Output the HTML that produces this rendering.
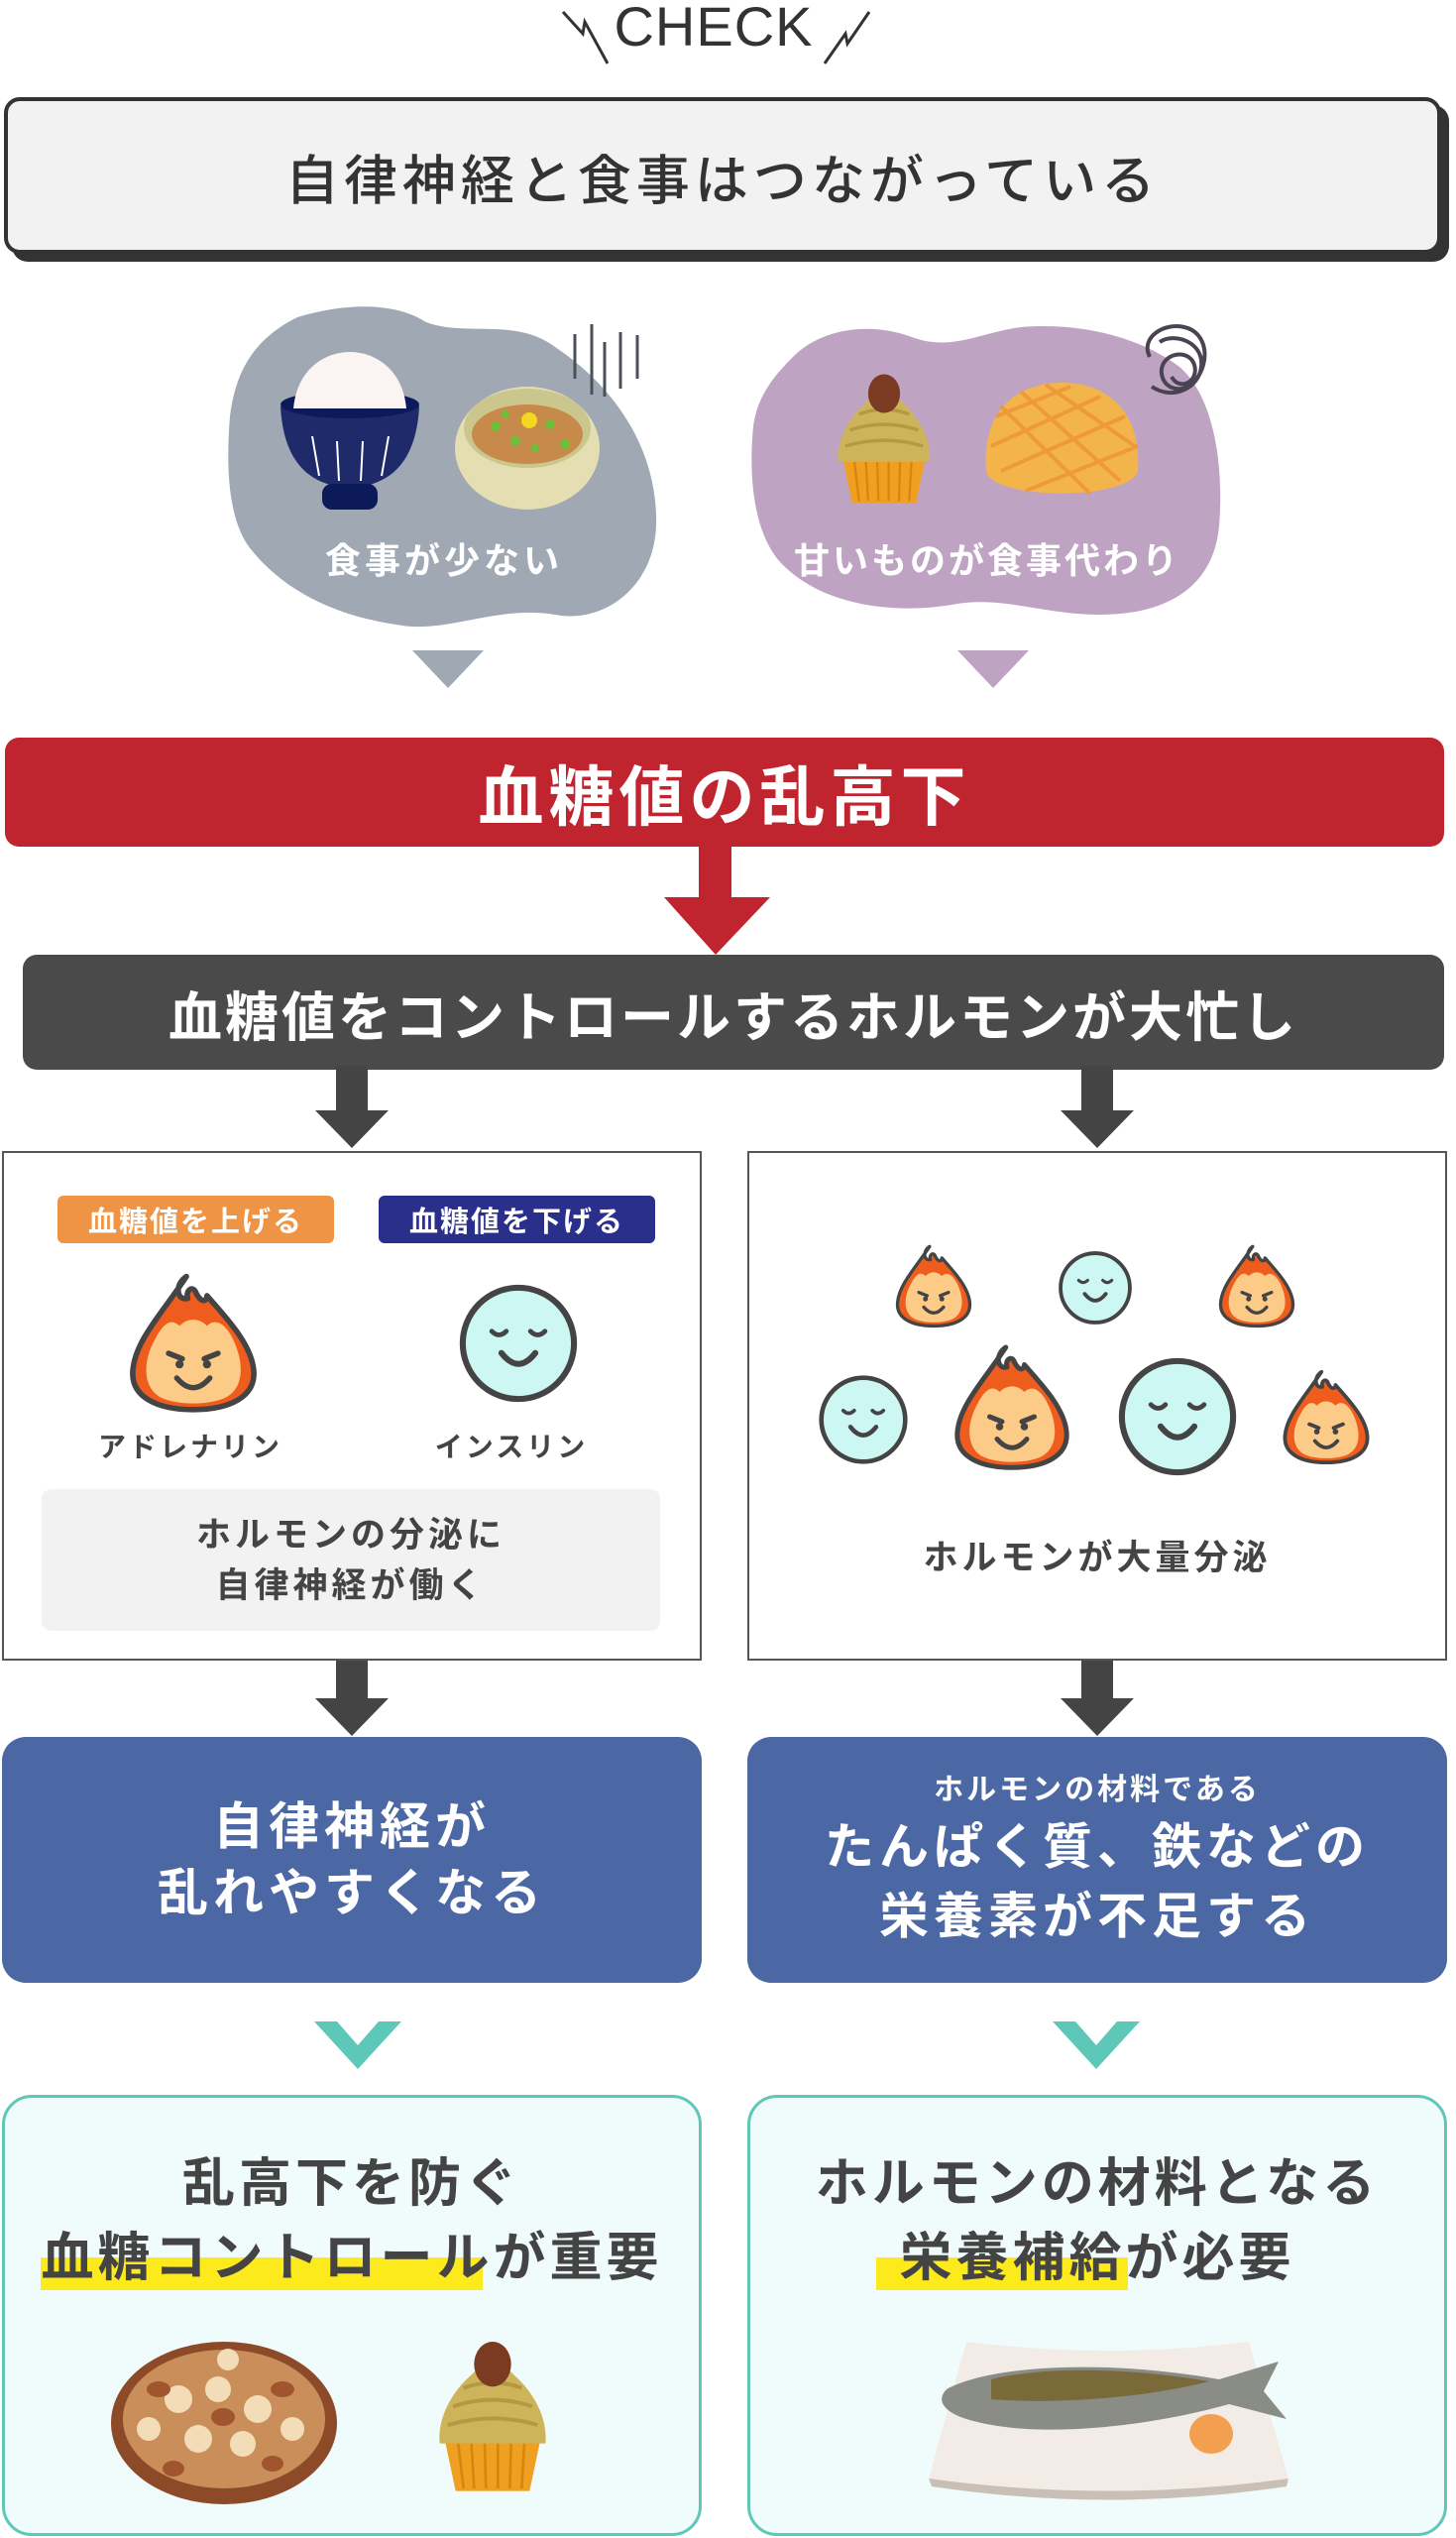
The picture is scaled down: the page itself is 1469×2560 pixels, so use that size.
<!DOCTYPE html>
<html><head><meta charset="utf-8"><style>
*{margin:0;padding:0;box-sizing:border-box}
body{width:1469px;height:2560px;background:#fff;position:relative;overflow:hidden;font-family:"Liberation Sans","Noto Sans CJK JP",sans-serif;color:#444}
.a{position:absolute}
.c{display:flex;align-items:center;justify-content:center;text-align:center}
.b{font-weight:700}
</style></head><body>
<svg width="0" height="0" style="position:absolute">
<defs>
<symbol id="fire" viewBox="0 0 100 104">
<path d="M45 4 C36 10,38 22,46 20 C44 14,50 10,52 16 C56 24,60 22,60 18 C72 32,92 52,94 72 C96 92,76 101,50 101 C24 101,4 92,6 72 C8 50,28 30,45 4 Z" fill="#ef5d1e" stroke="#444" stroke-width="4" stroke-linejoin="round"/>
<path d="M22 50 C28 38,34 34,40 40 C46 34,54 34,60 40 C66 34,74 38,80 52 C86 66,88 84,74 92 C62 98,38 98,26 92 C12 84,14 64,22 50 Z" fill="#fdcb88"/>
<path d="M32 60 L42 64 M68 60 L58 64" stroke="#444" stroke-width="4" stroke-linecap="round"/>
<circle cx="40" cy="68" r="3" fill="#444"/><circle cx="60" cy="68" r="3" fill="#444"/>
<path d="M38 78 Q50 92 62 78" fill="none" stroke="#444" stroke-width="4" stroke-linecap="round"/>
</symbol>
<symbol id="ins" viewBox="0 0 100 100">
<ellipse cx="50" cy="50" rx="46" ry="46" fill="#ccf7f3" stroke="#444" stroke-width="5"/>
<path d="M28 40 Q34 46 40 40 M60 40 Q66 46 72 40" fill="none" stroke="#444" stroke-width="4" stroke-linecap="round"/>
<path d="M36 58 Q50 76 64 58" fill="none" stroke="#444" stroke-width="5" stroke-linecap="round"/>
</symbol>
<symbol id="cup" viewBox="0 0 100 120">
<path d="M14 78 L22 116 L78 116 L86 78 Z" fill="#f0a020"/>
<path d="M24 80 L28 114 M34 80 L36 114 M44 80 L45 114 M54 80 L54 114 M64 80 L63 114 M74 80 L72 114" stroke="#d88510" stroke-width="2"/>
<path d="M10 80 C8 60,20 40,34 28 C40 20,60 20,66 28 C80 40,92 60,90 80 Z" fill="#cdb45a"/>
<path d="M16 66 Q50 56 84 66 M20 52 Q50 42 80 52 M28 38 Q50 30 72 38" fill="none" stroke="#b39a42" stroke-width="3"/>
<ellipse cx="50" cy="20" rx="14" ry="17" fill="#7a3b22"/>
</symbol>
</defs></svg>

<!-- CHECK -->
<div class="a" style="left:600px;top:-6px;width:240px;text-align:center;font-size:56px;color:#333;letter-spacing:1px">CHECK</div>
<svg class="a" style="left:560px;top:0" width="340" height="80"><path d="M8 12 L28 34 L30 22 L53 64" fill="none" stroke="#333" stroke-width="3"/><path d="M272 64 L293 34 L295 44 L317 12" fill="none" stroke="#333" stroke-width="3"/></svg>

<!-- title -->
<div class="a" style="left:12px;top:106px;width:1450px;height:158px;background:#333;border-radius:16px"></div>
<div class="a c" style="left:4px;top:98px;width:1450px;height:158px;background:#f2f2f2;border:4px solid #333;border-radius:16px;font-size:54px;color:#333;font-weight:500;letter-spacing:5px">自律神経と食事はつながっている</div>

<!-- blobs -->
<svg class="a" style="left:0;top:300px" width="1469" height="340">
<path d="M300 20 C350 5,400 5,430 25 C470 40,520 20,560 50 C620 90,660 150,662 220 C665 290,610 330,560 320 C500 310,450 340,400 330 C330 320,280 290,250 250 C230 220,228 170,232 120 C238 70,260 40,300 20Z" fill="#a0a8b4"/>
<path d="M800 60 C830 30,880 25,920 40 C960 55,990 35,1030 30 C1090 25,1150 40,1190 70 C1225 100,1235 170,1230 230 C1225 290,1180 320,1110 320 C1050 320,1010 300,960 310 C900 320,830 310,790 270 C760 240,755 180,760 130 C764 100,780 80,800 60Z" fill="#bfa3c3"/>
<g stroke="#4a4f58" stroke-width="3"><line x1="580" y1="37" x2="580" y2="82"/><line x1="597" y1="27" x2="597" y2="98"/><line x1="610" y1="45" x2="610" y2="100"/><line x1="626" y1="35" x2="626" y2="92"/><line x1="643" y1="38" x2="643" y2="82"/></g>
<g fill="none" stroke="#4a4452" stroke-width="4"><path d="M1160 60 C1150 40,1175 25,1195 30 C1218 35,1222 65,1205 85 C1190 100,1170 90,1172 72 C1175 55,1200 52,1205 68 C1210 85,1190 95,1182 80 M1170 45 C1185 35,1215 45,1212 70 C1210 90,1185 105,1162 90"/></g>
<!-- rice bowl -->
<path d="M283 110 L423 110 C420 165,395 190,353 192 C311 190,286 165,283 110Z" fill="#1f2a6a"/>
<ellipse cx="353" cy="108" rx="70" ry="14" fill="#0d1a5a"/>
<path d="M296 112 C300 70,330 55,353 55 C376 55,406 70,410 112 Z" fill="#faf5f2"/>
<rect x="325" y="188" width="56" height="26" rx="10" fill="#0d1a5a"/>
<g stroke="#fff" stroke-width="2"><line x1="315" y1="140" x2="322" y2="180"/><line x1="340" y1="145" x2="342" y2="185"/><line x1="366" y1="145" x2="364" y2="185"/><line x1="392" y1="140" x2="385" y2="180"/></g>
<!-- natto -->
<ellipse cx="532" cy="152" rx="73" ry="62" fill="#e4deb2"/>
<ellipse cx="532" cy="132" rx="64" ry="40" fill="#cbc68e"/>
<ellipse cx="532" cy="138" rx="56" ry="30" fill="#c88a4a"/>
<g fill="#6dbe3a"><circle cx="500" cy="130" r="5"/><circle cx="520" cy="145" r="5"/><circle cx="555" cy="128" r="5"/><circle cx="570" cy="148" r="5"/><circle cx="540" cy="152" r="4"/><circle cx="510" cy="118" r="4"/></g>
<circle cx="534" cy="124" r="8" fill="#f4d820"/>
<!-- cupcake/melon -->
<use href="#cup" x="834" y="74" width="116" height="138"/>
<path d="M995 175 C990 110,1030 86,1071 86 C1112 86,1152 110,1148 175 C1140 205,1000 205,995 175Z" fill="#f3b54a"/>
<g stroke="#ef9a3a" stroke-width="4" fill="none"><path d="M1005 120 L1080 90 M1000 150 L1110 100 M1010 175 L1135 120 M1035 195 L1148 150 M1010 110 L1100 198 M1030 95 L1130 185 M1055 88 L1145 150"/></g>
</svg>
<div class="a c b" style="left:228px;top:535px;width:440px;height:56px;color:#fff;font-size:36px;letter-spacing:4px">食事が少ない</div>
<div class="a c b" style="left:756px;top:535px;width:480px;height:56px;color:#fff;font-size:36px;letter-spacing:3px">甘いものが食事代わり</div>

<!-- triangles -->
<svg class="a" style="left:0;top:650px" width="1469" height="50"><polygon points="416,6 488,6 452,44" fill="#a0a8b4"/><polygon points="966,6 1038,6 1002,44" fill="#bfa3c3"/></svg>

<!-- red bar -->
<div class="a c b" style="left:5px;top:744px;width:1452px;height:110px;background:#c0252f;border-radius:14px;color:#fff;font-size:66px;letter-spacing:5px">血糖値の乱高下</div>
<svg class="a" style="left:0;top:850px" width="1469" height="120"><rect x="705" y="0" width="33" height="60" fill="#c0252f"/><polygon points="670,55 777,55 722,113" fill="#c0252f"/></svg>

<!-- dark bar -->
<div class="a c b" style="left:23px;top:963px;width:1434px;height:116px;background:#4a4a4a;border-radius:14px;color:#fff;font-size:54px;letter-spacing:3px">血糖値をコントロールするホルモンが大忙し</div>
<svg class="a" style="left:0;top:1075px" width="1469" height="90"><g fill="#444"><rect x="339" y="0" width="32" height="48"/><polygon points="318,45 392,45 355,83"/><rect x="1091" y="0" width="32" height="48"/><polygon points="1070,45 1144,45 1107,83"/></g></svg>

<!-- white boxes -->
<div class="a" style="left:2px;top:1161px;width:706px;height:514px;border:2px solid #555"></div>
<div class="a" style="left:754px;top:1161px;width:706px;height:514px;border:2px solid #555"></div>
<div class="a c b" style="left:58px;top:1206px;width:279px;height:48px;background:#ef9444;border-radius:6px;color:#fff;font-size:29px;letter-spacing:2px">血糖値を上げる</div>
<div class="a c b" style="left:382px;top:1206px;width:279px;height:48px;background:#2b2f8c;border-radius:6px;color:#fff;font-size:29px;letter-spacing:2px">血糖値を下げる</div>
<svg class="a" style="left:124px;top:1282px" width="142" height="144"><use href="#fire" width="142" height="144"/></svg>
<svg class="a" style="left:462px;top:1294px" width="122" height="122"><use href="#ins" width="122" height="122"/></svg>
<div class="a c b" style="left:60px;top:1438px;width:264px;height:40px;font-size:28px;letter-spacing:3px">アドレナリン</div>
<div class="a c b" style="left:384px;top:1438px;width:264px;height:40px;font-size:28px;letter-spacing:3px">インスリン</div>
<div class="a c b" style="left:42px;top:1502px;width:624px;height:143px;background:#f2f2f2;border-radius:10px;font-size:35px;line-height:51px;letter-spacing:4px">ホルモンの分泌に<br>自律神経が働く</div>

<svg class="a" style="left:900px;top:1254px" width="84" height="86"><use href="#fire" width="84" height="86"/></svg>
<svg class="a" style="left:1226px;top:1254px" width="84" height="86"><use href="#fire" width="84" height="86"/></svg>
<svg class="a" style="left:1067px;top:1261px" width="76" height="76"><use href="#ins" width="76" height="76"/></svg>
<svg class="a" style="left:825px;top:1386px" width="92" height="92"><use href="#ins" width="92" height="92"/></svg>
<svg class="a" style="left:958px;top:1354px" width="126" height="130"><use href="#fire" width="126" height="130"/></svg>
<svg class="a" style="left:1127px;top:1368px" width="122" height="122"><use href="#ins" width="122" height="122"/></svg>
<svg class="a" style="left:1290px;top:1380px" width="96" height="98"><use href="#fire" width="96" height="98"/></svg>
<div class="a c b" style="left:754px;top:1545px;width:706px;height:46px;font-size:35px;letter-spacing:4px">ホルモンが大量分泌</div>

<svg class="a" style="left:0;top:1675px" width="1469" height="80"><g fill="#444"><rect x="339" y="0" width="32" height="40"/><polygon points="318,38 392,38 355,76"/><rect x="1091" y="0" width="32" height="40"/><polygon points="1070,38 1144,38 1107,76"/></g></svg>

<!-- blue boxes -->
<div class="a c b" style="left:2px;top:1752px;width:706px;height:248px;background:#4c68a4;border-radius:24px;color:#fff;font-size:51px;line-height:67px;letter-spacing:5px">自律神経が<br>乱れやすくなる</div>
<div class="a c b" style="left:754px;top:1752px;width:706px;height:248px;background:#4c68a4;border-radius:24px;color:#fff;flex-direction:column;letter-spacing:3px"><div style="font-size:30px;line-height:44px">ホルモンの材料である</div><div style="font-size:50px;line-height:70px;letter-spacing:5px">たんぱく質、鉄などの<br>栄養素が不足する</div></div>

<!-- teal chevrons -->
<svg class="a" style="left:0;top:2035px" width="1469" height="60"><polygon points="317,4 340,4 361,28 382,4 405,4 361,52" fill="#5ec8b8"/><polygon points="1062,4 1085,4 1106,28 1127,4 1150,4 1106,52" fill="#5ec8b8"/></svg>

<!-- light boxes -->
<div class="a" style="left:2px;top:2113px;width:706px;height:445px;background:#f0fcfb;border:3px solid #5ec8b8;border-radius:30px"></div>
<div class="a" style="left:754px;top:2113px;width:706px;height:445px;background:#f0fcfb;border:3px solid #5ec8b8;border-radius:30px"></div>
<div class="a" style="left:41px;top:2277px;width:446px;height:33px;background:#fdea1c"></div>
<div class="a" style="left:884px;top:2277px;width:254px;height:33px;background:#fdea1c"></div>
<div class="a b" style="left:2px;top:2165px;width:706px;text-align:center;font-size:53px;line-height:75px;letter-spacing:4px;color:#444">乱高下を防ぐ<br>血糖コントロールが重要</div>
<div class="a b" style="left:754px;top:2165px;width:706px;text-align:center;font-size:53px;line-height:75px;letter-spacing:4px;color:#444">ホルモンの材料となる<br>栄養補給が必要</div>

<svg class="a" style="left:0;top:2340px" width="1469" height="200">
<ellipse cx="226" cy="104" rx="114" ry="82" fill="#8c4a28"/>
<ellipse cx="226" cy="100" rx="102" ry="70" fill="#c98e5a"/>
<g fill="#f3dcb8"><circle cx="180" cy="80" r="14"/><circle cx="220" cy="70" r="13"/><circle cx="260" cy="90" r="14"/><circle cx="200" cy="120" r="14"/><circle cx="245" cy="125" r="13"/><circle cx="150" cy="110" r="12"/><circle cx="295" cy="110" r="12"/><circle cx="230" cy="40" r="11"/></g>
<g fill="#a0552e"><ellipse cx="160" cy="70" rx="12" ry="8"/><ellipse cx="285" cy="70" rx="12" ry="8"/><ellipse cx="225" cy="98" rx="12" ry="9"/><ellipse cx="175" cy="150" rx="11" ry="8"/><ellipse cx="275" cy="145" rx="11" ry="8"/></g>
<use href="#cup" x="427" y="18" width="140" height="160"/>
<path d="M975 22 Q1120 40 1260 22 L1300 160 Q1120 185 937 160 Z" fill="#f3ece6"/>
<path d="M937 160 Q1120 185 1300 160 L1298 168 Q1120 195 940 168Z" fill="#c9bfb6"/>
<path d="M955 70 C1000 45,1120 40,1230 60 L1290 42 L1275 72 L1298 100 L1240 85 C1150 110,1040 120,975 100 C950 92,945 80,955 70Z" fill="#8a8c86"/>
<path d="M1000 60 C1060 45,1150 50,1220 62 C1150 80,1060 85,1000 80Z" fill="#7a6a3a"/>
<ellipse cx="1222" cy="115" rx="22" ry="20" fill="#f2a050"/>
</svg>
</body></html>
